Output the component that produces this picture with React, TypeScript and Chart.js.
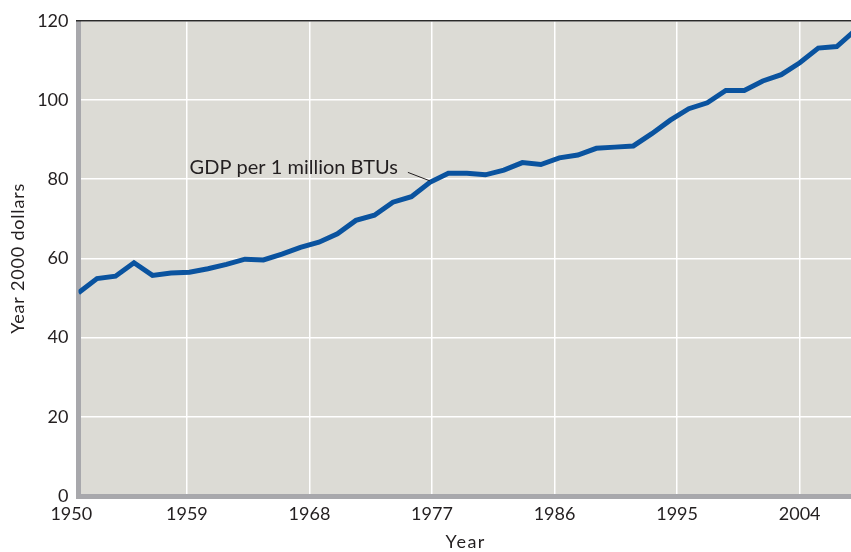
import { useEffect, useRef } from 'react';
import { Chart, registerables } from 'chart.js';

Chart.register(...registerables);

// GDP per 1 million BTUs (year 2000 dollars), one value per plotted vertex
const values = [
  51.3, 54.9, 55.5, 58.9, 55.7, 56.3, 56.5, 57.4, 58.5, 59.8,
  59.6, 61.1, 62.8, 64.1, 66.2, 69.6, 70.9, 74.2, 75.6, 79.2,
  81.5, 81.5, 81.1, 82.3, 84.2, 83.7, 85.4, 86.1, 87.8, 88.1,
  88.4, 91.5, 94.9, 97.8, 99.3, 102.4, 102.4, 104.8, 106.4, 109.4,
  113.1, 113.5, 117.6,
];
const yearTicks = [1950, 1959, 1968, 1977, 1986, 1995, 2004];
const yTicks = [0, 20, 40, 60, 80, 100, 120];
const seriesLabel = 'GDP per 1 million BTUs';
const xTitle = 'Year';
const yTitle = 'Year 2000 dollars';
const yearMin = 1951.04;
const yearMax = 2007.77;
const indexMax = 41.77;
const annotationIndex = 19;

const FONT = 'Lato';
const TEXT = '#231f20';

const decor = {
  id: 'decor',
  beforeDraw(chart: any) {
    const { ctx, chartArea: a } = chart;
    ctx.save();
    ctx.fillStyle = '#dcdbd5';
    ctx.fillRect(a.left, a.top, a.right - a.left, a.bottom - a.top);
    ctx.restore();
  },
  beforeDatasetsDraw(chart: any) {
    const { ctx, chartArea: a } = chart;
    ctx.save();
    ctx.fillStyle = '#a8a8ac';
    ctx.fillRect(a.left - 2.5, a.top, 5, a.bottom + 3 - a.top);
    ctx.fillRect(a.left - 2.5, a.bottom - 2, a.right - a.left + 2.5, 5);
    ctx.strokeStyle = '#2a2a2a';
    ctx.lineWidth = 1.5;
    ctx.beginPath();
    ctx.moveTo(a.left - 2.5, a.top);
    ctx.lineTo(a.right, a.top);
    ctx.stroke();
    ctx.restore();
  },
  afterDatasetsDraw(chart: any) {
    const { ctx } = chart;
    const pt = chart.getDatasetMeta(0).data[annotationIndex];
    if (!pt) return;
    const x = pt.x;
    const y = pt.y;
    ctx.save();
    ctx.strokeStyle = TEXT;
    ctx.lineWidth = 1;
    ctx.beginPath();
    ctx.moveTo(x - 22, y - 10);
    ctx.lineTo(x, y - 1.5);
    ctx.stroke();
    ctx.fillStyle = TEXT;
    ctx.font = `20px ${FONT}`;
    ctx.textAlign = 'right';
    ctx.textBaseline = 'alphabetic';
    ctx.fillText(seriesLabel, x - 32, y - 8);
    ctx.restore();
  },
  afterDraw(chart: any) {
    const { ctx, chartArea: a } = chart;
    ctx.save();
    ctx.fillStyle = TEXT;
    // x-axis title
    ctx.font = `18px ${FONT}`;
    (ctx as any).letterSpacing = '1.5px';
    ctx.textAlign = 'center';
    ctx.textBaseline = 'alphabetic';
    ctx.fillText(xTitle, (a.left + a.right) / 2 + 1, chart.height - 4);
    // y-axis title
    (ctx as any).letterSpacing = '0.8px';
    ctx.translate(18.5, (a.top + a.bottom) / 2);
    ctx.rotate(-Math.PI / 2);
    ctx.textBaseline = 'middle';
    ctx.fillText(yTitle, 0, 0);
    ctx.restore();
  },
};

export default function App() {
  const ref = useRef<HTMLCanvasElement>(null);

  useEffect(() => {
    if (!ref.current) return;
    const chart = new Chart(ref.current, {
      type: 'line',
      data: {
        datasets: [
          {
            label: seriesLabel,
            data: values.map((v, i) => ({ x: i, y: v })),
            borderColor: '#0a539f',
            borderWidth: 5,
            pointRadius: 0,
            tension: 0,
            xAxisID: 'x',
            yAxisID: 'y',
          },
        ],
      },
      options: {
        animation: false,
        responsive: false,
        layout: { padding: { top: 18, right: 0, left: 0, bottom: 0 } },
        plugins: { legend: { display: false }, tooltip: { enabled: false } },
        scales: {
          x: {
            type: 'linear',
            display: false,
            min: 0,
            max: indexMax,
          },
          year: {
            type: 'linear',
            position: 'bottom',
            min: yearMin,
            max: yearMax,
            afterBuildTicks: (scale: any) => {
              scale.ticks = yearTicks.map((v) => ({
                value: v < scale.min ? scale.min - 0.53 : v,
              }));
            },
            afterFit: (scale: any) => {
              scale.height = 56;
            },
            border: { display: false },
            grid: {
              color: (c: any) => (c.index === 0 ? 'rgba(0,0,0,0)' : '#ffffff'),
              lineWidth: 1.5,
              drawTicks: false,
            },
            ticks: {
              autoSkip: false,
              maxRotation: 0,
              padding: 7,
              color: TEXT,
              font: { family: FONT, size: 18 },
              callback: (_v: any, i: number) => String(yearTicks[i]),
            },
          },
          y: {
            type: 'linear',
            min: yTicks[0],
            max: yTicks[yTicks.length - 1],
            afterBuildTicks: (scale: any) => {
              scale.ticks = yTicks.map((v) => ({ value: v }));
            },
            afterFit: (scale: any) => {
              scale.width = 78.5;
            },
            border: { display: false },
            grid: { color: '#ffffff', lineWidth: 1.5, drawTicks: false },
            ticks: {
              padding: 10,
              color: TEXT,
              font: { family: FONT, size: 18 },
            },
          },
        },
      },
      plugins: [decor],
    });
    return () => chart.destroy();
  }, []);

  return (
    <div style={{ position: 'fixed', left: 0, top: 0, width: 851, height: 552 }}>
      <canvas ref={ref} width={851} height={552} style={{ display: 'block' }} />
    </div>
  );
}
